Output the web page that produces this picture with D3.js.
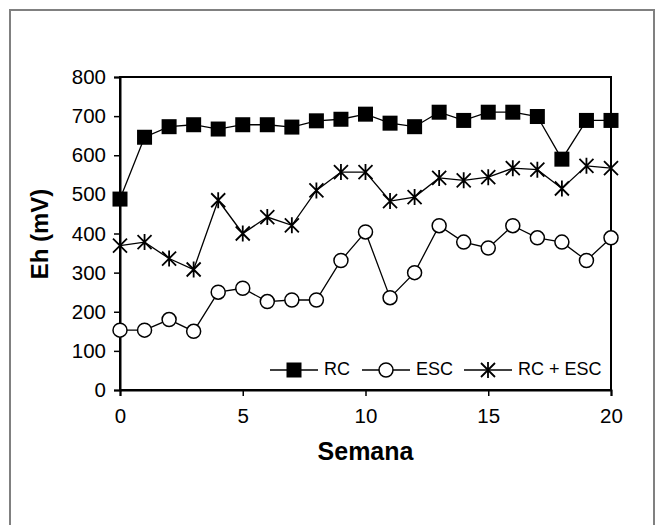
<!DOCTYPE html>
<html><head><meta charset="utf-8">
<script src="https://cdn.jsdelivr.net/npm/d3@7"></script>
<style>body{margin:0;background:#fff}svg{display:block}text{font-family:"Liberation Sans",Arial,sans-serif}</style>
</head><body>
<svg id="c" width="655" height="525"></svg>
<script>
const weeks = [0,1,2,3,4,5,6,7,8,9,10,11,12,13,14,15,16,17,18,19,20];
const rc = [488,646,673,678,667,678,678,672,688,692,705,682,673,710,689,710,710,699,590,689,689];
const esc = [153,153,180,150,250,260,226,230,230,331,404,236,300,420,378,363,420,389,378,331,389];
const rcEsc = [369,378,336,308,485,400,442,421,510,557,557,483,493,542,536,544,567,563,515,573,567];
const xTicks = [0,5,10,15,20];
const yTicks = [0,100,200,300,400,500,600,700,800];
const seriesNames = ["RC","ESC","RC + ESC"];

const svg = d3.select("#c");
svg.append("rect").attr("x",10).attr("y",10).attr("width",644).attr("height",540)
  .attr("fill","#fff").attr("stroke","#808080").attr("stroke-width",2);

const x = d3.scaleLinear().domain([0,20]).range([120,611]);
const y = d3.scaleLinear().domain([0,800]).range([390,77]);

svg.append("rect").attr("x",x(0)).attr("y",y(800)).attr("width",x(20)-x(0)).attr("height",y(0)-y(800))
  .attr("fill","none").attr("stroke","#000").attr("stroke-width",2);

const yAxis = svg.append("g").attr("transform",`translate(${x(0)},0)`)
  .call(d3.axisLeft(y).tickValues(yTicks).tickSize(6).tickPadding(8));
const xAxis = svg.append("g").attr("transform",`translate(0,${y(0)})`)
  .call(d3.axisBottom(x).tickValues(xTicks).tickSize(6).tickPadding(12));
[yAxis,xAxis].forEach(a=>{
  a.select(".domain").attr("stroke","#000").attr("stroke-width",2);
  a.selectAll(".tick line").attr("stroke","#000").attr("stroke-width",1.5);
  a.selectAll(".tick text").attr("fill","#000").style("font-size","20.5px").style("font-family","'Liberation Sans',Arial,sans-serif");
});

svg.append("text").attr("x",x(10)).attr("y",453).attr("text-anchor","middle").attr("dominant-baseline","middle")
  .style("font-size","25px").style("font-weight","bold").text("Semana");
svg.append("text").attr("transform",`translate(42,234) rotate(-90)`).attr("text-anchor","middle").attr("dominant-baseline","middle")
  .style("font-size","24px").style("font-weight","bold").text("Eh (mV)");

const line = d3.line().x((d,i)=>x(weeks[i])).y(d=>y(d));
function drawMarker(g, type, cx, cy){
  if(type==="square"){
    g.append("rect").attr("x",cx-7.5).attr("y",cy-7.5).attr("width",15).attr("height",15).attr("fill","#000");
  } else if(type==="circle"){
    g.append("circle").attr("cx",cx).attr("cy",cy).attr("r",7).attr("fill","#fff").attr("stroke","#000").attr("stroke-width",1.5);
  } else {
    const s=7;
    g.append("path").attr("d",`M${cx-s},${cy-s}L${cx+s},${cy+s}M${cx-s},${cy+s}L${cx+s},${cy-s}M${cx},${cy-s-1}L${cx},${cy+s+1}`)
      .attr("stroke","#000").attr("stroke-width",1.8).attr("fill","none");
  }
}
const series = [
  {name:seriesNames[0], data:rc, marker:"square"},
  {name:seriesNames[1], data:esc, marker:"circle"},
  {name:seriesNames[2], data:rcEsc, marker:"star"}
];
series.forEach(s=>{
  const g = svg.append("g");
  g.append("path").attr("d",line(s.data)).attr("fill","none").attr("stroke","#000").attr("stroke-width",1.3);
  s.data.forEach((v,i)=>drawMarker(g,s.marker,x(weeks[i]),y(v)));
});

const legY = 370;
const legX = [270,362,464];
series.forEach((s,i)=>{
  const g = svg.append("g");
  g.append("line").attr("x1",legX[i]).attr("x2",legX[i]+48).attr("y1",legY).attr("y2",legY).attr("stroke","#000").attr("stroke-width",1.3);
  drawMarker(g,s.marker,legX[i]+24,legY);
  g.append("text").attr("x",legX[i]+54).attr("y",legY).attr("dominant-baseline","middle").style("font-size","18px").text(s.name);
});
</script>
</body></html>
